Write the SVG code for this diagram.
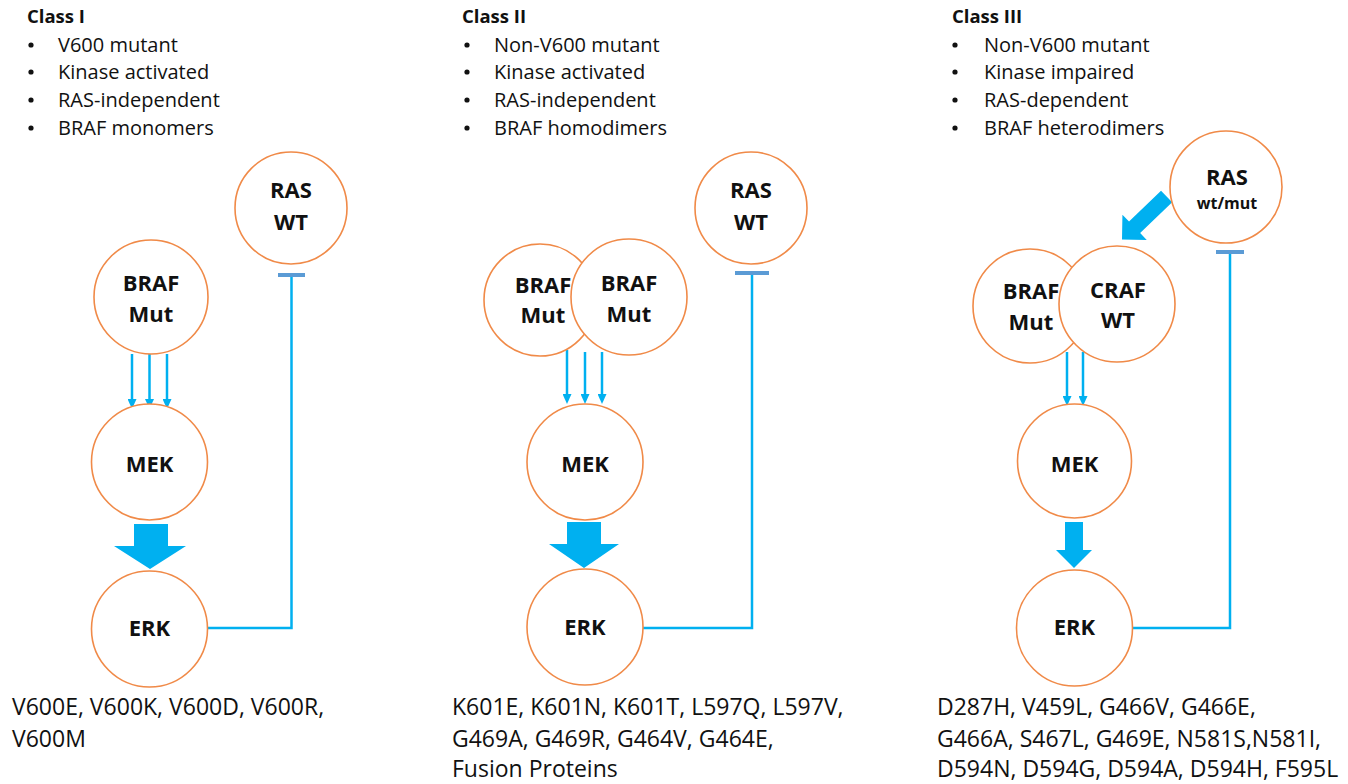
<svg xmlns="http://www.w3.org/2000/svg" width="1348" height="784" viewBox="0 0 1348 784">
  <style>
    .hdr { font-family: "Open Sans", "Liberation Sans", sans-serif; font-weight: 700; font-size: 18.5px; fill: #111; }
    .item { font-family: "Open Sans", "Liberation Sans", sans-serif; font-size: 20px; fill: #111; }
    .dot { fill: #111; }
    .mut { font-family: "Open Sans", "Liberation Sans", sans-serif; font-size: 23px; fill: #111; }
    .node circle { fill: #fff; stroke: #F08A48; stroke-width: 1.6; }
    .lbl { font-family: "Open Sans", "Liberation Sans", sans-serif; font-weight: 700; font-size: 22px; fill: #111; text-anchor: middle; }
    .small { font-size: 16px; }
    .thin { stroke: #00B0F0; stroke-width: 2.5; fill: none; }
    .inh { stroke: #00B0F0; stroke-width: 2.5; fill: none; }
    .tbar { stroke: #5B9BD5; stroke-width: 4; }
    .big { fill: #00B0F0; }
  </style>
  <defs>
    <marker id="head" markerUnits="userSpaceOnUse" markerWidth="10" markerHeight="9" viewBox="0 0 10 9" refX="0" refY="4.5" orient="auto">
      <path d="M0,0 L10,4.5 L0,9 z" fill="#00B0F0"/>
    </marker>
  </defs>

  <rect width="1348" height="784" fill="#fff"/>

  <!-- Class I description -->
  <g id="class1-text">
    <text class="hdr" x="27" y="23">Class I</text>
    <circle class="dot" cx="31" cy="45" r="2.6"/><text class="item" x="58" y="52">V600 mutant</text>
    <circle class="dot" cx="31" cy="72" r="2.6"/><text class="item" x="58" y="79">Kinase activated</text>
    <circle class="dot" cx="31" cy="100" r="2.6"/><text class="item" x="58" y="107">RAS-independent</text>
    <circle class="dot" cx="31" cy="128" r="2.6"/><text class="item" x="58" y="135">BRAF monomers</text>
    <text class="mut" x="12" y="715">V600E, V600K, V600D, V600R,</text>
    <text class="mut" x="12" y="747">V600M</text>
  </g>

  <!-- Class II description -->
  <g id="class2-text">
    <text class="hdr" x="462" y="23">Class II</text>
    <circle class="dot" cx="467" cy="45" r="2.6"/><text class="item" x="494" y="52">Non-V600 mutant</text>
    <circle class="dot" cx="467" cy="72" r="2.6"/><text class="item" x="494" y="79">Kinase activated</text>
    <circle class="dot" cx="467" cy="100" r="2.6"/><text class="item" x="494" y="107">RAS-independent</text>
    <circle class="dot" cx="467" cy="128" r="2.6"/><text class="item" x="494" y="135">BRAF homodimers</text>
    <text class="mut" x="452" y="715">K601E, K601N, K601T, L597Q, L597V,</text>
    <text class="mut" x="452" y="747">G469A, G469R, G464V, G464E,</text>
    <text class="mut" x="452" y="777">Fusion Proteins</text>
  </g>

  <!-- Class III description -->
  <g id="class3-text">
    <text class="hdr" x="952" y="23">Class III</text>
    <circle class="dot" cx="955" cy="45" r="2.6"/><text class="item" x="984" y="52">Non-V600 mutant</text>
    <circle class="dot" cx="955" cy="72" r="2.6"/><text class="item" x="984" y="79">Kinase impaired</text>
    <circle class="dot" cx="955" cy="100" r="2.6"/><text class="item" x="984" y="107">RAS-dependent</text>
    <circle class="dot" cx="955" cy="128" r="2.6"/><text class="item" x="984" y="135">BRAF heterodimers</text>
    <text class="mut" x="937" y="715">D287H, V459L, G466V, G466E,</text>
    <text class="mut" x="937" y="747">G466A, S467L, G469E, N581S,N581I,</text>
    <text class="mut" x="937" y="777">D594N, D594G, D594A, D594H, F595L</text>
  </g>

  <!-- connectors -->
  <g id="connectors">
    <!-- Class I -->
    <line class="thin" x1="132" y1="354" x2="132" y2="399" marker-end="url(#head)"/>
    <line class="thin" x1="149.5" y1="354" x2="149.5" y2="399" marker-end="url(#head)"/>
    <line class="thin" x1="167" y1="354" x2="167" y2="399" marker-end="url(#head)"/>
    <polygon class="big" points="134,524 168,524 168,546 186,546 150,569 114,546 134,546"/>
    <polyline class="inh" points="208,628 291.5,628 291.5,275"/>
    <line class="tbar" x1="278" y1="275" x2="305" y2="275"/>

    <!-- Class II -->
    <line class="thin" x1="567" y1="350" x2="567" y2="394" marker-end="url(#head)"/>
    <line class="thin" x1="585" y1="352" x2="585" y2="394" marker-end="url(#head)"/>
    <line class="thin" x1="602" y1="352" x2="602" y2="394" marker-end="url(#head)"/>
    <polygon class="big" points="567,522 601,522 601,544 619,544 584,568 549,544 567,544"/>
    <polyline class="inh" points="643,628 752,628 752,273"/>
    <line class="tbar" x1="735" y1="273" x2="769" y2="273"/>

    <!-- Class III -->
    <line class="thin" x1="1067" y1="352" x2="1067" y2="396" marker-end="url(#head)"/>
    <line class="thin" x1="1083" y1="352" x2="1083" y2="396" marker-end="url(#head)"/>
    <polygon class="big" points="1065,522 1083,522 1083,550 1092,550 1074,568 1056,550 1065,550"/>
    <polygon class="big" transform="translate(1122,239.5) rotate(136)" points="0,0 -17.5,-17.5 -17.5,-8 -62,-8 -62,8 -17.5,8 -17.5,17.5"/>
    <polyline class="inh" points="1133,628 1230,628 1230,252"/>
    <line class="tbar" x1="1216" y1="252" x2="1244" y2="252"/>
  </g>

  <!-- Class I nodes -->
  <g id="c1-ras" class="node">
    <circle cx="291" cy="208" r="56"/>
    <text class="lbl" x="291" y="198">RAS</text>
    <text class="lbl" x="291" y="230">WT</text>
  </g>
  <g id="c1-braf" class="node">
    <circle cx="151" cy="297" r="57"/>
    <text class="lbl" x="151" y="291">BRAF</text>
    <text class="lbl" x="151" y="322">Mut</text>
  </g>
  <g id="c1-mek" class="node">
    <circle cx="149.5" cy="462" r="58"/>
    <text class="lbl" x="149.5" y="472">MEK</text>
  </g>
  <g id="c1-erk" class="node">
    <circle cx="149.5" cy="629" r="58"/>
    <text class="lbl" x="149.5" y="636">ERK</text>
  </g>

  <!-- Class II nodes -->
  <g id="c2-ras" class="node">
    <circle cx="751" cy="208" r="56"/>
    <text class="lbl" x="751" y="198">RAS</text>
    <text class="lbl" x="751" y="230">WT</text>
  </g>
  <g id="c2-braf-a" class="node">
    <circle cx="540" cy="300" r="56"/>
  </g>
  <g id="c2-braf-b" class="node">
    <circle cx="629" cy="297" r="58"/>
    <text class="lbl" x="543" y="293">BRAF</text>
    <text class="lbl" x="543" y="323">Mut</text>
    <text class="lbl" x="629" y="291">BRAF</text>
    <text class="lbl" x="629" y="322">Mut</text>
  </g>
  <g id="c2-mek" class="node">
    <circle cx="585" cy="462" r="58"/>
    <text class="lbl" x="585" y="472">MEK</text>
  </g>
  <g id="c2-erk" class="node">
    <circle cx="585" cy="627" r="58"/>
    <text class="lbl" x="585" y="635">ERK</text>
  </g>

  <!-- Class III nodes -->
  <g id="c3-ras" class="node">
    <circle cx="1226" cy="187" r="56"/>
    <text class="lbl" x="1227" y="185">RAS</text>
    <text class="lbl small" x="1227" y="209">wt/mut</text>
  </g>
  <g id="c3-braf" class="node">
    <circle cx="1030" cy="306" r="57"/>
  </g>
  <g id="c3-craf" class="node">
    <circle cx="1117" cy="304" r="58"/>
    <text class="lbl" x="1031" y="299">BRAF</text>
    <text class="lbl" x="1031" y="330">Mut</text>
    <text class="lbl" x="1118" y="298">CRAF</text>
    <text class="lbl" x="1118" y="328">WT</text>
  </g>
  <g id="c3-mek" class="node">
    <circle cx="1074.5" cy="461" r="57"/>
    <text class="lbl" x="1074.5" y="472">MEK</text>
  </g>
  <g id="c3-erk" class="node">
    <circle cx="1074.5" cy="628" r="58"/>
    <text class="lbl" x="1074.5" y="635">ERK</text>
  </g>
</svg>
